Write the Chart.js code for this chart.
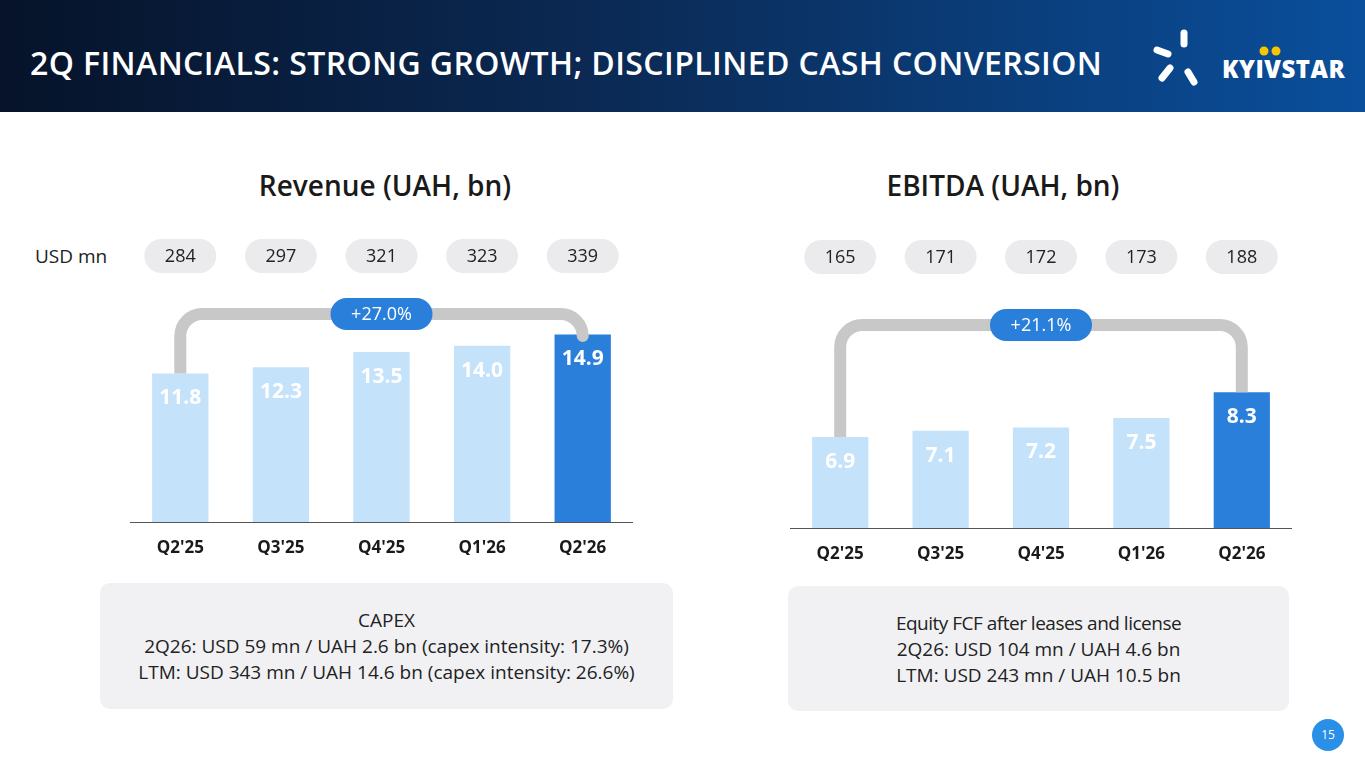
<!DOCTYPE html>
<html><head><meta charset="utf-8">
<script src="https://cdn.jsdelivr.net/npm/chart.js@4"></script>
<style>
body{margin:0;width:1365px;height:768px;position:relative;background:#fff;font-family:"Open Sans",sans-serif;overflow:hidden}
#hdr{position:absolute;left:0;top:0;width:1365px;height:112px;background:linear-gradient(90deg,#06132a 0%,#0b2a55 45%,#0a4f9c 100%)}
#title{position:absolute;left:30px;top:41px;color:#fff;font-size:32px;font-weight:600;letter-spacing:0.4px}
#logo{position:absolute;left:1222px;top:52px;color:#fff;font-size:24px;font-weight:800;letter-spacing:0.5px}
.h{position:absolute;top:166px;font-size:28px;font-weight:600;color:#1a1a1a;text-align:center;width:400px}
.box{position:absolute;background:#f1f1f4;border-radius:10px;text-align:center;color:#222;font-size:19px;line-height:26px}
.wrap{position:absolute}
#usd{position:absolute;left:35px;top:243px;font-size:19px;color:#222}
#pg{position:absolute;left:1312px;top:719px;width:32px;height:32px;border-radius:16px;background:#2a8fe6;color:#fff;font-size:12px;text-align:center;line-height:32px}
</style></head><body>
<div id="hdr"></div>
<div id="title">2Q FINANCIALS: STRONG GROWTH; DISCIPLINED CASH CONVERSION</div>
<svg style="position:absolute;left:1152px;top:28px" width="64" height="62">
<g stroke="#fff" stroke-width="7" stroke-linecap="round">
<line x1="32" y1="5" x2="32" y2="16"/><line x1="5" y1="22" x2="16" y2="26"/><line x1="10" y1="50" x2="18" y2="40"/><line x1="36" y1="44" x2="42" y2="54"/></g></svg>
<svg style="position:absolute;left:1258px;top:45px" width="30" height="12"><circle cx="6" cy="6" r="4.5" fill="#f7c600"/><circle cx="18" cy="6" r="4.5" fill="#f7c600"/></svg>
<div id="logo">KYIVSTAR</div>
<div class="h" style="left:185px">Revenue (UAH, bn)</div>
<div class="h" style="left:803px">EBITDA (UAH, bn)</div>
<div id="usd">USD mn</div>
<div class="wrap" style="left:130px;top:230px;width:503px;height:325px"><canvas id="c1"></canvas></div>
<div class="wrap" style="left:790px;top:230px;width:502px;height:331px"><canvas id="c2"></canvas></div>
<div class="box" style="left:100px;top:583px;width:573px;height:126px;padding-top:24px;box-sizing:border-box">CAPEX<br>2Q26: USD 59 mn / UAH 2.6 bn (capex intensity: 17.3%)<br>LTM: USD 343 mn / UAH 14.6 bn (capex intensity: 26.6%)</div>
<div class="box" style="left:788px;top:586px;width:501px;height:125px;padding-top:24px;box-sizing:border-box"><span style="letter-spacing:-0.5px">Equity FCF after leases and license</span><br>2Q26: USD 104 mn / UAH 4.6 bn<br>LTM: USD 243 mn / UAH 10.5 bn</div>
<div id="pg">15</div>
<script>
const labels = ["Q2'25", "Q3'25", "Q4'25", "Q1'26", "Q2'26"];
const revenue = [11.8, 12.3, 13.5, 14.0, 14.9];
const revenueUsd = [284, 297, 321, 323, 339];
const ebitda = [6.9, 7.1, 7.2, 7.5, 8.3];
const ebitdaUsd = [165, 171, 172, 173, 188];
const light = "#c5e2fb", dark = "#2a7fdb";

function pill(ctx, x, y, w, h, fill, text, color){
  ctx.fillStyle = fill;
  ctx.beginPath(); ctx.roundRect(x - w/2, y - h/2, w, h, h/2); ctx.fill();
  ctx.fillStyle = color; ctx.font = "18px 'Open Sans'";
  ctx.textAlign = "center"; ctx.textBaseline = "middle";
  ctx.fillText(text, x, y + 1);
}

function makeDeco(usd, usdY, bracketY, growth){
  return {
    id: "deco",
    afterDatasetsDraw(chart){
      const ctx = chart.ctx;
      const bars = chart.getDatasetMeta(0).data;
      const f = bars[0], l = bars[bars.length - 1];
      // bracket
      ctx.save();
      ctx.strokeStyle = "#c8c8c8"; ctx.lineWidth = 12; ctx.lineJoin = "round";
      const r = 22;
      ctx.beginPath();
      ctx.moveTo(f.x, f.y);
      ctx.arcTo(f.x, bracketY, f.x + r, bracketY, r);
      ctx.arcTo(l.x, bracketY, l.x, bracketY + r, r);
      ctx.lineTo(l.x, l.y);
      ctx.stroke();
      pill(ctx, (f.x + l.x)/2, bracketY, 102, 32, dark, growth, "#fff");
      // values inside bars
      bars.forEach((b, i) => {
        ctx.font = "bold 21px 'Open Sans'";
        ctx.textAlign = "center"; ctx.textBaseline = "middle";
        ctx.fillStyle = "#fff";
        ctx.fillText(chart.data.datasets[0].data[i].toFixed(1), b.x, b.y + 25);
        pill(ctx, b.x, usdY, 72, 34, "#ebebee", String(usd[i]), "#222");
      });
      ctx.restore();
    }
  };
}

function makeChart(id, data, min, max, usd, usdY, bracketY, growth){
  new Chart(document.getElementById(id), {
    type: "bar",
    data: {
      labels: labels,
      datasets: [{
        data: data,
        backgroundColor: data.map((v, i) => i === data.length - 1 ? dark : light),
        barPercentage: 0.56, categoryPercentage: 1
      }]
    },
    options: {
      responsive: true, maintainAspectRatio: false, animation: false,
      layout: { padding: 0 },
      plugins: { legend: { display: false }, tooltip: { enabled: false } },
      scales: {
        x: {
          grid: { display: false }, border: { color: "#555", width: 1 },
          ticks: { color: "#1a1a1a", font: { family: "Open Sans", size: 17, weight: "bold" }, padding: 8 },
          afterFit(s){ s.height = 33; }
        },
        y: { display: false, min: min, max: max }
      }
    },
    plugins: [makeDeco(usd, usdY, bracketY, growth)]
  });
}

makeChart("c1", revenue, 0, 23.2, revenueUsd, 26, 84, "+27.0%");
makeChart("c2", ebitda, 4.06, 13.37, ebitdaUsd, 27, 95, "+21.1%");
</script>
</body></html>
